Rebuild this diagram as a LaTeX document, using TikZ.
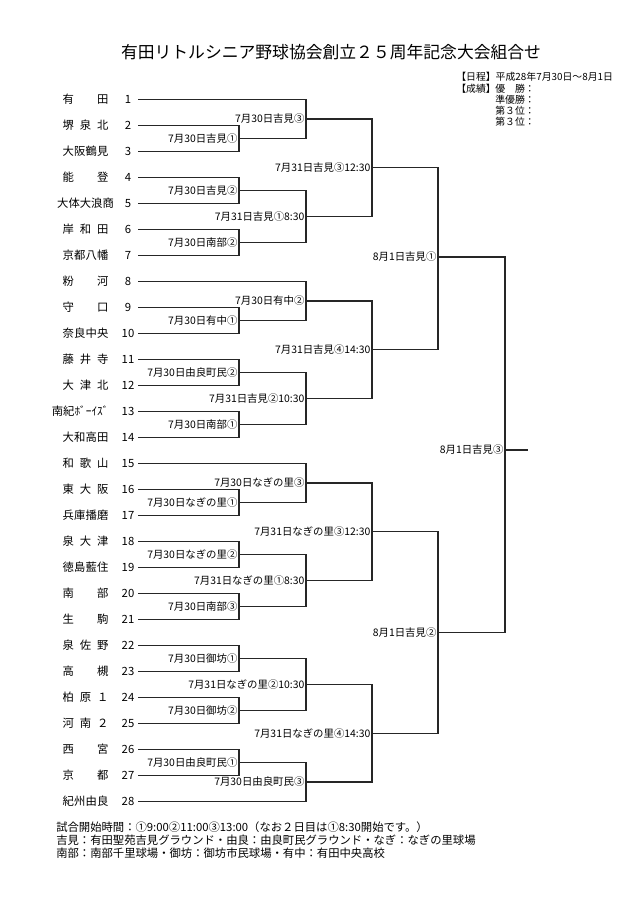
\documentclass[tikz,border=0pt]{standalone}
\usepackage{fontspec}
\setmainfont{Noto Sans CJK JP}
\usetikzlibrary{calc}
\tikzset{
  wire/.style={draw=black!85,line width=0.9pt},
  teamname/.style={inner sep=0pt,font=\fontsize{8.5}{10}\selectfont},
  teamno/.style={inner sep=0pt,font=\fontsize{8.5}{10}\selectfont},
  matchlabel/.style={anchor=east,inner sep=1pt,font=\fontsize{7.8}{9}\selectfont},
  infotext/.style={anchor=west,inner sep=0pt,font=\fontsize{7.4}{9}\selectfont},
  foottext/.style={anchor=west,inner sep=0pt,font=\fontsize{8.5}{10}\selectfont}
}
\newcommand{\tname}[1]{\makebox[34.5pt][s]{#1}}

\begin{document}
\begin{tikzpicture}[x=0.75pt,y=-0.75pt]
  \useasboundingbox (0,0) rectangle (640,912);
  \fill[white] (0,0) rectangle (640,912);
  % title and info
  \node[inner sep=0pt,font=\fontsize{12.6}{14}\selectfont] (TITLE) at (331,52)
    {有田リトルシニア野球協会創立２５周年記念大会組合せ};
  \node[infotext] (DATE) at (456,77) {【日程】平成28年7月30日～8月1日};
  \node[infotext] (RES)  at (456,89) {【成績】};
  \node[infotext] (RES1) at (495,89) {優　勝：};
  \node[infotext] (RES2) at (495,100) {準優勝：};
  \node[infotext] (RES3) at (495,111) {第３位：};
  \node[infotext] (RES4) at (495,122) {第３位：};
  % teams
  \node[teamname] (NAME1)  at (85.5,99.5)  {\tname{有\hfill 田}};
  \node[teamname] (NAME2)  at (85.5,125.5) {\tname{堺\hfill 泉\hfill 北}};
  \node[teamname] (NAME3)  at (85.5,151.5) {\tname{大\hfill 阪\hfill 鶴\hfill 見}};
  \node[teamname] (NAME4)  at (85.5,177.5) {\tname{能\hfill 登}};
  \node[teamname] (NAME5)  at (85.5,203.5) {大体大浪商};
  \node[teamname] (NAME6)  at (85.5,229.5) {\tname{岸\hfill 和\hfill 田}};
  \node[teamname] (NAME7)  at (85.5,255.5) {\tname{京\hfill 都\hfill 八\hfill 幡}};
  \node[teamname] (NAME8)  at (85.5,281.5) {\tname{粉\hfill 河}};
  \node[teamname] (NAME9)  at (85.5,307.5) {\tname{守\hfill 口}};
  \node[teamname] (NAME10) at (85.5,333.5) {\tname{奈\hfill 良\hfill 中\hfill 央}};
  \node[teamname] (NAME11) at (85.5,359.5) {\tname{藤\hfill 井\hfill 寺}};
  \node[teamname] (NAME12) at (85.5,385.5) {\tname{大\hfill 津\hfill 北}};
  \node[teamname] (NAME13) at (85.5,411.5) {\makebox[34.5pt][r]{南紀ﾎﾞｰｲｽﾞ}};
  \node[teamname] (NAME14) at (85.5,437.5) {\tname{大\hfill 和\hfill 高\hfill 田}};
  \node[teamname] (NAME15) at (85.5,463.5) {\tname{和\hfill 歌\hfill 山}};
  \node[teamname] (NAME16) at (85.5,489.5) {\tname{東\hfill 大\hfill 阪}};
  \node[teamname] (NAME17) at (85.5,515.5) {\tname{兵\hfill 庫\hfill 播\hfill 磨}};
  \node[teamname] (NAME18) at (85.5,541.5) {\tname{泉\hfill 大\hfill 津}};
  \node[teamname] (NAME19) at (85.5,567.5) {\tname{徳\hfill 島\hfill 藍\hfill 住}};
  \node[teamname] (NAME20) at (85.5,593.5) {\tname{南\hfill 部}};
  \node[teamname] (NAME21) at (85.5,619.5) {\tname{生\hfill 駒}};
  \node[teamname] (NAME22) at (85.5,645.5) {\tname{泉\hfill 佐\hfill 野}};
  \node[teamname] (NAME23) at (85.5,671.5) {\tname{高\hfill 槻}};
  \node[teamname] (NAME24) at (85.5,697.5) {\tname{柏\hfill 原\hfill １}};
  \node[teamname] (NAME25) at (85.5,723.5) {\tname{河\hfill 南\hfill ２}};
  \node[teamname] (NAME26) at (85.5,749.5) {\tname{西\hfill 宮}};
  \node[teamname] (NAME27) at (85.5,775.5) {\tname{京\hfill 都}};
  \node[teamname] (NAME28) at (85.5,801.5) {\tname{紀\hfill 州\hfill 由\hfill 良}};
  \node[teamno] (NUM1)  at (128,99.5)  {1};
  \node[teamno] (NUM2)  at (128,125.5) {2};
  \node[teamno] (NUM3)  at (128,151.5) {3};
  \node[teamno] (NUM4)  at (128,177.5) {4};
  \node[teamno] (NUM5)  at (128,203.5) {5};
  \node[teamno] (NUM6)  at (128,229.5) {6};
  \node[teamno] (NUM7)  at (128,255.5) {7};
  \node[teamno] (NUM8)  at (128,281.5) {8};
  \node[teamno] (NUM9)  at (128,307.5) {9};
  \node[teamno] (NUM10) at (128,333.5) {10};
  \node[teamno] (NUM11) at (128,359.5) {11};
  \node[teamno] (NUM12) at (128,385.5) {12};
  \node[teamno] (NUM13) at (128,411.5) {13};
  \node[teamno] (NUM14) at (128,437.5) {14};
  \node[teamno] (NUM15) at (128,463.5) {15};
  \node[teamno] (NUM16) at (128,489.5) {16};
  \node[teamno] (NUM17) at (128,515.5) {17};
  \node[teamno] (NUM18) at (128,541.5) {18};
  \node[teamno] (NUM19) at (128,567.5) {19};
  \node[teamno] (NUM20) at (128,593.5) {20};
  \node[teamno] (NUM21) at (128,619.5) {21};
  \node[teamno] (NUM22) at (128,645.5) {22};
  \node[teamno] (NUM23) at (128,671.5) {23};
  \node[teamno] (NUM24) at (128,697.5) {24};
  \node[teamno] (NUM25) at (128,723.5) {25};
  \node[teamno] (NUM26) at (128,749.5) {26};
  \node[teamno] (NUM27) at (128,775.5) {27};
  \node[teamno] (NUM28) at (128,801.5) {28};
  % line starts
  \coordinate (T1)  at (138,99.5);
  \coordinate (T2)  at (138,125.5);
  \coordinate (T3)  at (138,151.5);
  \coordinate (T4)  at (138,177.5);
  \coordinate (T5)  at (138,203.5);
  \coordinate (T6)  at (138,229.5);
  \coordinate (T7)  at (138,255.5);
  \coordinate (T8)  at (138,281.5);
  \coordinate (T9)  at (138,307.5);
  \coordinate (T10) at (138,333.5);
  \coordinate (T11) at (138,359.5);
  \coordinate (T12) at (138,385.5);
  \coordinate (T13) at (138,411.5);
  \coordinate (T14) at (138,437.5);
  \coordinate (T15) at (138,463.5);
  \coordinate (T16) at (138,489.5);
  \coordinate (T17) at (138,515.5);
  \coordinate (T18) at (138,541.5);
  \coordinate (T19) at (138,567.5);
  \coordinate (T20) at (138,593.5);
  \coordinate (T21) at (138,619.5);
  \coordinate (T22) at (138,645.5);
  \coordinate (T23) at (138,671.5);
  \coordinate (T24) at (138,697.5);
  \coordinate (T25) at (138,723.5);
  \coordinate (T26) at (138,749.5);
  \coordinate (T27) at (138,775.5);
  \coordinate (T28) at (138,801.5);
  % match points
  \coordinate (R1A) at (239,138.5);
  \coordinate (R1B) at (239,190.5);
  \coordinate (R1C) at (239,242.5);
  \coordinate (R1D) at (239,320.5);
  \coordinate (R1E) at (239,372.5);
  \coordinate (R1F) at (239,424.5);
  \coordinate (R1G) at (239,502.5);
  \coordinate (R1H) at (239,554.5);
  \coordinate (R1I) at (239,606.5);
  \coordinate (R1J) at (239,658.5);
  \coordinate (R1K) at (239,710.5);
  \coordinate (R1L) at (239,762.5);
  \coordinate (R2A) at (306,119);
  \coordinate (R2B) at (306,216.5);
  \coordinate (R2C) at (306,301);
  \coordinate (R2D) at (306,398.5);
  \coordinate (R2E) at (306,483);
  \coordinate (R2F) at (306,580.5);
  \coordinate (R2G) at (306,684.5);
  \coordinate (R2H) at (306,782);
  \coordinate (R3A) at (372,167.5);
  \coordinate (R3B) at (372,349.5);
  \coordinate (R3C) at (372,531.5);
  \coordinate (R3D) at (372,733.5);
  \coordinate (R4A) at (438,257);
  \coordinate (R4B) at (438,632.5);
  \coordinate (FIN) at (505,450);
  \coordinate (WIN) at (528,450);
  % brackets
  \draw (T2) -| (R1A) |- (T3) [wire];
  \draw (T4) -| (R1B) |- (T5) [wire];
  \draw (T6) -| (R1C) |- (T7) [wire];
  \draw (T9) -| (R1D) |- (T10) [wire];
  \draw (T11) -| (R1E) |- (T12) [wire];
  \draw (T13) -| (R1F) |- (T14) [wire];
  \draw (T16) -| (R1G) |- (T17) [wire];
  \draw (T18) -| (R1H) |- (T19) [wire];
  \draw (T20) -| (R1I) |- (T21) [wire];
  \draw (T22) -| (R1J) |- (T23) [wire];
  \draw (T24) -| (R1K) |- (T25) [wire];
  \draw (T26) -| (R1L) |- (T27) [wire];
  \draw (T1) -| (R2A) |- (R1A) [wire];
  \draw (R1B) -| (R2B) |- (R1C) [wire];
  \draw (T8) -| (R2C) |- (R1D) [wire];
  \draw (R1E) -| (R2D) |- (R1F) [wire];
  \draw (T15) -| (R2E) |- (R1G) [wire];
  \draw (R1H) -| (R2F) |- (R1I) [wire];
  \draw (R1J) -| (R2G) |- (R1K) [wire];
  \draw (R1L) -| (R2H) |- (T28) [wire];
  \draw (R2A) -| (R3A) |- (R2B) [wire];
  \draw (R2C) -| (R3B) |- (R2D) [wire];
  \draw (R2E) -| (R3C) |- (R2F) [wire];
  \draw (R2G) -| (R3D) |- (R2H) [wire];
  \draw (R3A) -| (R4A) |- (R3B) [wire];
  \draw (R3C) -| (R4B) |- (R3D) [wire];
  \draw (R4A) -| (FIN) |- (R4B) [wire];
  \draw (FIN) -- (WIN) [wire];
  % match labels
  \node[matchlabel] (LR1A) at (R1A) {7月30日吉見①};
  \node[matchlabel] (LR1B) at (R1B) {7月30日吉見②};
  \node[matchlabel] (LR1C) at (R1C) {7月30日南部②};
  \node[matchlabel] (LR1D) at (R1D) {7月30日有中①};
  \node[matchlabel] (LR1E) at (R1E) {7月30日由良町民②};
  \node[matchlabel] (LR1F) at (R1F) {7月30日南部①};
  \node[matchlabel] (LR1G) at (R1G) {7月30日なぎの里①};
  \node[matchlabel] (LR1H) at (R1H) {7月30日なぎの里②};
  \node[matchlabel] (LR1I) at (R1I) {7月30日南部③};
  \node[matchlabel] (LR1J) at (R1J) {7月30日御坊①};
  \node[matchlabel] (LR1K) at (R1K) {7月30日御坊②};
  \node[matchlabel] (LR1L) at (R1L) {7月30日由良町民①};
  \node[matchlabel] (LR2A) at (R2A) {7月30日吉見③};
  \node[matchlabel] (LR2B) at (R2B) {7月31日吉見①8:30};
  \node[matchlabel] (LR2C) at (R2C) {7月30日有中②};
  \node[matchlabel] (LR2D) at (R2D) {7月31日吉見②10:30};
  \node[matchlabel] (LR2E) at (R2E) {7月30日なぎの里③};
  \node[matchlabel] (LR2F) at (R2F) {7月31日なぎの里①8:30};
  \node[matchlabel] (LR2G) at (R2G) {7月31日なぎの里②10:30};
  \node[matchlabel] (LR2H) at (R2H) {7月30日由良町民③};
  \node[matchlabel] (LR3A) at (R3A) {7月31日吉見③12:30};
  \node[matchlabel] (LR3B) at (R3B) {7月31日吉見④14:30};
  \node[matchlabel] (LR3C) at (R3C) {7月31日なぎの里③12:30};
  \node[matchlabel] (LR3D) at (R3D) {7月31日なぎの里④14:30};
  \node[matchlabel] (LR4A) at (R4A) {8月1日吉見①};
  \node[matchlabel] (LR4B) at (R4B) {8月1日吉見②};
  \node[matchlabel] (LFIN) at (FIN) {8月1日吉見③};
  % notes
  \node[foottext] (FOOT1) at (56,827) {試合開始時間：①9:00②11:00③13:00（なお２日目は①8:30開始です。）};
  \node[foottext] (FOOT2) at (56,840) {吉見：有田聖苑吉見グラウンド・由良：由良町民グラウンド・なぎ：なぎの里球場};
  \node[foottext] (FOOT3) at (56,853) {南部：南部千里球場・御坊：御坊市民球場・有中：有田中央高校};
\end{tikzpicture}
\end{document}
